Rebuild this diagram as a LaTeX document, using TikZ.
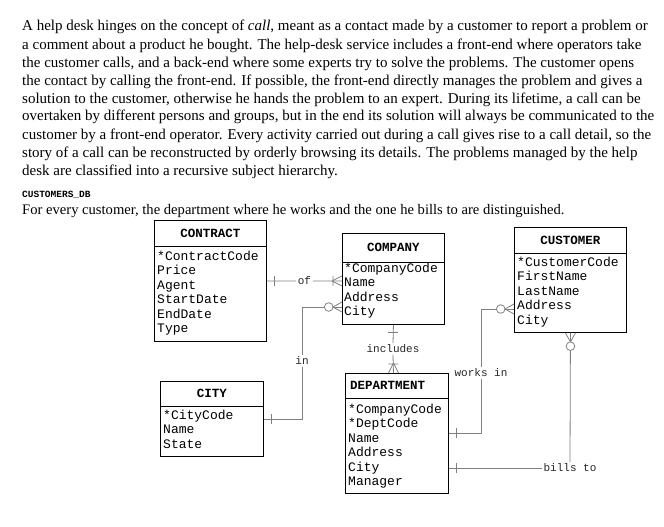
\documentclass[tikz,border=0pt]{standalone}
\usepackage{fontspec}
\setmainfont{Liberation Serif}
\setmonofont{Liberation Mono}
\usetikzlibrary{calc}
\tikzset{
  ent/.style={draw=black, line width=0.9pt, inner sep=0pt, anchor=north west},
  sepline/.style={draw=black, line width=0.8pt},
  hdr/.style={font=\fontsize{12.5}{14}\selectfont\ttfamily\bfseries, inner sep=0pt},
  attr/.style={font=\fontsize{13}{14.5}\selectfont\ttfamily, inner sep=0pt, anchor=base west},
  rel/.style={draw=black!50, line width=0.8pt},
  lbl/.style={font=\fontsize{11}{12}\selectfont\ttfamily, text=black!85, fill=white, inner sep=1.5pt},
  para/.style={font=\fontsize{15}{18}\selectfont, inner sep=0pt, anchor=base west},
  pics/one/.style={code={\draw[rel] (-7,-5) -- (-7,5);}},
  pics/onemany/.style={code={\draw[rel] (-10,0) -- (0,-5) (-10,0) -- (0,5) (-9,-5) -- (-9,5);}},
  pics/zeromany/.style={code={\draw[rel] (-9,0) -- (0,-5) (-9,0) -- (0,5); \draw[rel, fill=white] (-13.3,0) circle[radius=4.3pt];}},
}
\begin{document}
\begin{tikzpicture}[x=1pt,y=-1pt]
\useasboundingbox (0,0) rectangle (664,527);
% text
\node[para] (p1) at (22,31) {A help desk hinges on the concept of \textit{call}, meant as a contact made by a customer to report a problem or};
\node[para] (p2) at (22,49) {a comment about a product he bought. The help-desk service includes a front-end where operators take};
\node[para] (p3) at (22,67) {the customer calls, and a back-end where some experts try to solve the problems. The customer opens};
\node[para] (p4) at (22,85) {the contact by calling the front-end. If possible, the front-end directly manages the problem and gives a};
\node[para] (p5) at (22,103) {solution to the customer, otherwise he hands the problem to an expert. During its lifetime, a call can be};
\node[para] (p6) at (22,121) {overtaken by different persons and groups, but in the end its solution will always be communicated to the};
\node[para] (p7) at (22,139) {customer by a front-end operator. Every activity carried out during a call gives rise to a call detail, so the};
\node[para] (p8) at (22,157) {story of a call can be reconstructed by orderly browsing its details. The problems managed by the help};
\node[para] (p9) at (22,175) {desk are classified into a recursive subject hierarchy.};
\node[inner sep=0pt, anchor=base west, font=\fontsize{9.5}{11}\selectfont\ttfamily\bfseries] (dbname) at (22,197.5) {CUSTOMERS\_DB};
\node[para, font=\fontsize{14.6}{18}\selectfont] (p10) at (22,214) {For every customer, the department where he works and the one he bills to are distinguished.};

% entities
\node[ent, minimum width=112pt, minimum height=121pt] (contract) at (154,220) {};
\draw[sepline] ($(contract.north west)+(0,26)$) -- ($(contract.north east)+(0,26)$);
\node[hdr] (contractT) at ($(contract.north)+(0,13)$) {CONTRACT};
\node[attr] (contractA) at (157,260) {\parbox[t]{108pt}{\raggedright *ContractCode\\Price\\Agent\\StartDate\\EndDate\\Type}};

\node[ent, minimum width=102pt, minimum height=91pt] (company) at (342,233) {};
\draw[sepline] ($(company.north west)+(0,29)$) -- ($(company.north east)+(0,29)$);
\node[hdr] (companyT) at ($(company.north)+(0,14.5)$) {COMPANY};
\node[attr] (companyA) at (344,272) {\parbox[t]{98pt}{\raggedright *CompanyCode\\Name\\Address\\City}};

\node[ent, minimum width=112pt, minimum height=105pt] (customer) at (514,227) {};
\draw[sepline] ($(customer.north west)+(0,26)$) -- ($(customer.north east)+(0,26)$);
\node[hdr] (customerT) at ($(customer.north)+(0,13)$) {CUSTOMER};
\node[attr] (customerA) at (517,266) {\parbox[t]{108pt}{\raggedright *CustomerCode\\FirstName\\LastName\\Address\\City}};

\node[ent, minimum width=103pt, minimum height=75pt] (city) at (160,381) {};
\draw[sepline] ($(city.north west)+(0,25)$) -- ($(city.north east)+(0,25)$);
\node[hdr] (cityT) at ($(city.north)+(0,12.5)$) {CITY};
\node[attr] (cityA) at (163,419) {\parbox[t]{98pt}{\raggedright *CityCode\\Name\\State}};

\node[ent, minimum width=103pt, minimum height=120pt] (department) at (345,373) {};
\draw[sepline] ($(department.north west)+(0,25)$) -- ($(department.north east)+(0,25)$);
\node[hdr, anchor=west] (departmentT) at ($(department.north west)+(5,12.5)$) {DEPARTMENT};
\node[attr] (departmentA) at (348,413) {\parbox[t]{98pt}{\raggedright *CompanyCode\\{}*DeptCode\\Name\\Address\\City\\Manager}};

% relationship labels
\node[lbl] (of) at ($(contract.east)!0.5!(contract.east -| company.west)$) {of};
\node[lbl] (in) at (302,361) {in};
\node[lbl] (includes) at (393,349) {includes};
\node[lbl] (works) at (481,373) {works in};
\node[lbl] (bills) at (570,468) {bills to};
\coordinate (inS) at ($(company.north west)+(0,74)$);
\coordinate (workS) at ($(customer.north west)+(0,82)$);

% connectors
\draw[rel] (contract.east) -- (of.west);
\draw[rel] (of.east) -- (contract.east -| company.west);
\draw[rel] (inS) -| (in.north);
\draw[rel] (in.south) |- (city.east);
\draw[rel] (company.south) -- (includes.north);
\draw[rel] (includes.south) -- (company.south |- department.north);
\draw[rel] (workS) -| (works.north);
\draw[rel] (works.south) |- (department.east);
\draw[rel] (customer.south) -- (bills.north);
\draw[rel] (bills.west) -- (bills.west -| department.east);

% end markers
\pic[rotate=180] at (contract.east) {one};
\pic at (contract.east -| company.west) {onemany};
\pic at (inS) {zeromany};
\pic[rotate=180] at (city.east) {one};
\pic[rotate=90] at (company.south) {one};
\pic[rotate=-90] at (company.south |- department.north) {onemany};
\pic at (workS) {zeromany};
\pic[rotate=180] at (department.east) {one};
\pic[rotate=90] at (customer.south) {zeromany};
\pic[rotate=180] at (bills.west -| department.east) {one};
\end{tikzpicture}
\end{document}
